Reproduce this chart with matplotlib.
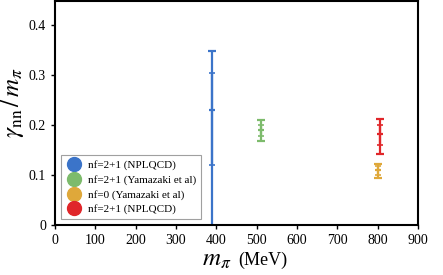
import matplotlib
matplotlib.use("Agg")
import matplotlib.pyplot as plt
from matplotlib.lines import Line2D

plt.rcParams['font.family'] = ['Liberation Serif', 'DejaVu Serif']
plt.rcParams['mathtext.fontset'] = 'stix'

# data
labels = ["nf=2+1 (NPLQCD)", "nf=2+1 (Yamazaki et al)",
          "nf=0 (Yamazaki et al)", "nf=2+1 (NPLQCD)"]
colors = ["#3b74c9", "#7dbb6c", "#dfa83a", "#e0262a"]
m_pi = [390, 510, 800, 806]
gamma = [0.23, 0.19, 0.11, 0.182]
stat_lo = [0.12, 0.178, 0.100, 0.160]
stat_hi = [0.305, 0.200, 0.118, 0.200]
tot_lo = [-0.10, 0.168, 0.095, 0.142]
tot_hi = [0.348, 0.210, 0.122, 0.213]

fig = plt.figure(figsize=(4.43, 2.75), dpi=100)
ax = fig.add_axes([0.124, 0.182, 0.82, 0.816])

for i in range(len(m_pi)):
    x, y, c = m_pi[i], gamma[i], colors[i]
    # total error
    ax.errorbar([x], [y], yerr=[[y - tot_lo[i]], [tot_hi[i] - y]],
                fmt='none', ecolor=c, elinewidth=1.6, capsize=3, capthick=1.6)
    # statistical error
    ax.errorbar([x], [y], yerr=[[y - stat_lo[i]], [stat_hi[i] - y]],
                fmt='none', ecolor=c, elinewidth=1.6, capsize=2, capthick=1.2)
    ax.plot([x], [y], marker='_', ms=4, mew=1.6, color=c)

ax.set_xlim(0, 900)
ax.set_ylim(0, 0.45)
ax.set_xticks(range(0, 901, 100))
ax.set_yticks([0, 0.1, 0.2, 0.3, 0.4])
ax.set_yticklabels(["0", "0.1", "0.2", "0.3", "0.4"])
ax.tick_params(labelsize=10, width=1, length=3, color='black')
for s in ax.spines.values():
    s.set_linewidth(1.5)

# x label: big m_pi, smaller unit
fig.text(0.522, 0.035, r"$m_\pi$", fontsize=18, ha='right', va='baseline')
fig.text(0.538, 0.035, "(MeV)", fontsize=13, ha='left', va='baseline')
ax.set_ylabel(r"$\gamma_{\rm nn}\,/\,m_\pi$", fontsize=18)
ax.yaxis.set_label_coords(-0.08, 0.545)

handles = [Line2D([], [], ls='none', marker='o', ms=10, color=c) for c in colors]
leg = ax.legend(handles, labels, loc='lower left', bbox_to_anchor=(0.018, 0.025),
                fontsize=8, frameon=True, fancybox=False, handletextpad=0.6,
                labelspacing=0.42, borderpad=0.45, handlelength=1.3,
                borderaxespad=0)
leg.get_frame().set_edgecolor('#888888')
leg.get_frame().set_linewidth(0.8)

fig.savefig("out.png", dpi=100)
